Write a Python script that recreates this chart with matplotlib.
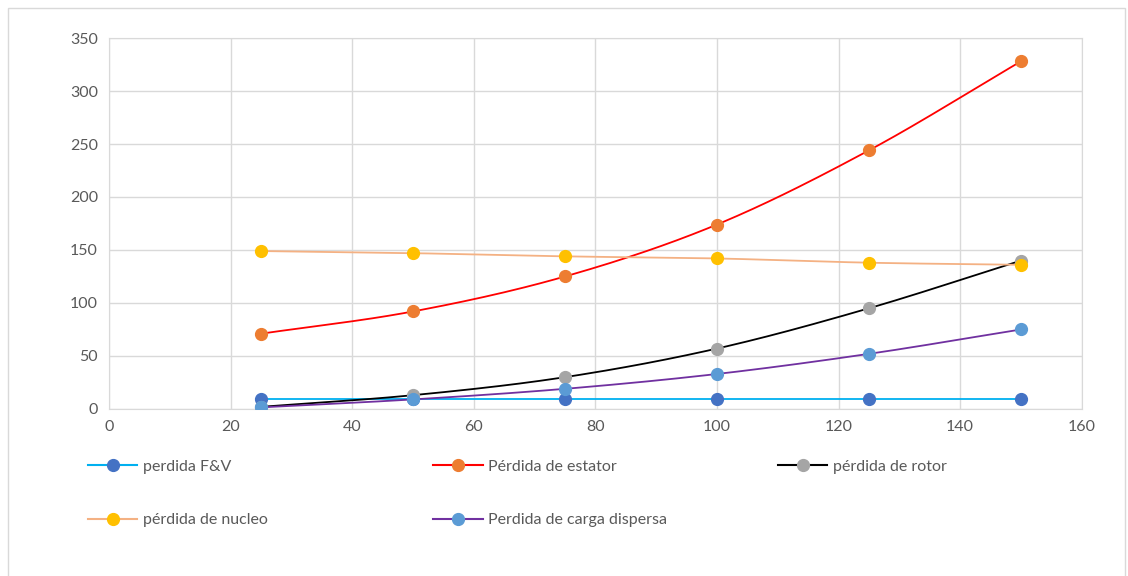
import numpy as np
import matplotlib
matplotlib.use("Agg")
import matplotlib.pyplot as plt
from matplotlib.lines import Line2D
from matplotlib.patches import Rectangle

x = [25, 50, 75, 100, 125, 150]
perdida_fv = [9.5, 9.5, 9.5, 9.5, 9.5, 9.5]
perdida_estator = [71, 92, 125, 174, 244, 328]
perdida_rotor = [2, 13, 30, 57, 95, 140]
perdida_nucleo = [149, 147, 144, 142, 138, 136]
perdida_dispersa = [1.5, 9, 19, 33, 52, 75]

labels = ["perdida F&V", "Pérdida de estator", "pérdida de rotor",
          "pérdida de nucleo", "Perdida de carga dispersa"]
series = [perdida_fv, perdida_estator, perdida_rotor, perdida_nucleo, perdida_dispersa]
line_colors = ["#00B0F0", "#FF0000", "#000000", "#F4B183", "#7030A0"]
marker_colors = ["#4472C4", "#ED7D31", "#A5A5A5", "#FFC000", "#5B9BD5"]

xticks = [0, 20, 40, 60, 80, 100, 120, 140, 160]
yticks = [0, 50, 100, 150, 200, 250, 300, 350]


def smooth(xs, ys, n=30):
    xs = np.asarray(xs, float)
    ys = np.asarray(ys, float)
    px = np.concatenate([[2 * xs[0] - xs[1]], xs, [2 * xs[-1] - xs[-2]]])
    py = np.concatenate([[2 * ys[0] - ys[1]], ys, [2 * ys[-1] - ys[-2]]])
    ox, oy = [], []
    for i in range(1, len(px) - 2):
        t = np.linspace(0, 1, n, endpoint=(i == len(px) - 3))
        for P, out in ((px, ox), (py, oy)):
            p0, p1, p2, p3 = P[i - 1], P[i], P[i + 1], P[i + 2]
            out.extend(0.5 * ((2 * p1) + (-p0 + p2) * t
                              + (2 * p0 - 5 * p1 + 4 * p2 - p3) * t ** 2
                              + (-p0 + 3 * p1 - 3 * p2 + p3) * t ** 3))
    return np.array(ox), np.array(oy)


plt.rcParams['font.family'] = ['Lato', 'DejaVu Sans']
fig = plt.figure(figsize=(11.28, 5.76), dpi=100)
ax = fig.add_axes([0.0966, 0.29, 0.8624, 0.644])

for ys, lc, mc in zip(series, line_colors, marker_colors):
    sx, sy = smooth(x, ys)
    ax.plot(sx, sy, color=lc, lw=1.3, zorder=3)
    ax.plot(x, ys, ls="none", marker="o", ms=8.5, color=mc, zorder=4)

ax.set_xlim(0, 160)
ax.set_ylim(0, 350)
ax.set_xticks(xticks)
ax.set_yticks(yticks)
ax.grid(True, color="#D9D9D9", lw=1)
ax.set_axisbelow(True)
for s in ax.spines.values():
    s.set_color("#D9D9D9")
ax.tick_params(length=0, colors="#595959", labelsize=11.5, pad=8)

handles = [Line2D([0], [0], color=lc, lw=1.5, marker="o", ms=8.5,
                  markerfacecolor=mc, markeredgecolor=mc)
           for lc, mc in zip(line_colors, marker_colors)]

columns = [[0, 3], [1, 4], [2]]
col_x = [0.0709, 0.3768, 0.6826]
for idx, cx in zip(columns, col_x):
    leg = fig.legend([handles[i] for i in idx], [labels[i] for i in idx],
                     loc="upper left", bbox_to_anchor=(cx, 0.2157),
                     frameon=False, fontsize=11.5, labelcolor="#595959",
                     handlelength=3.1, handletextpad=0.35, borderpad=0,
                     labelspacing=2.45)

fig.patches.append(Rectangle((0.007, -0.01), 0.99, 0.996, transform=fig.transFigure,
                             fill=False, edgecolor="#D9D9D9", lw=1))

fig.savefig("out.png", dpi=100, facecolor="white")
